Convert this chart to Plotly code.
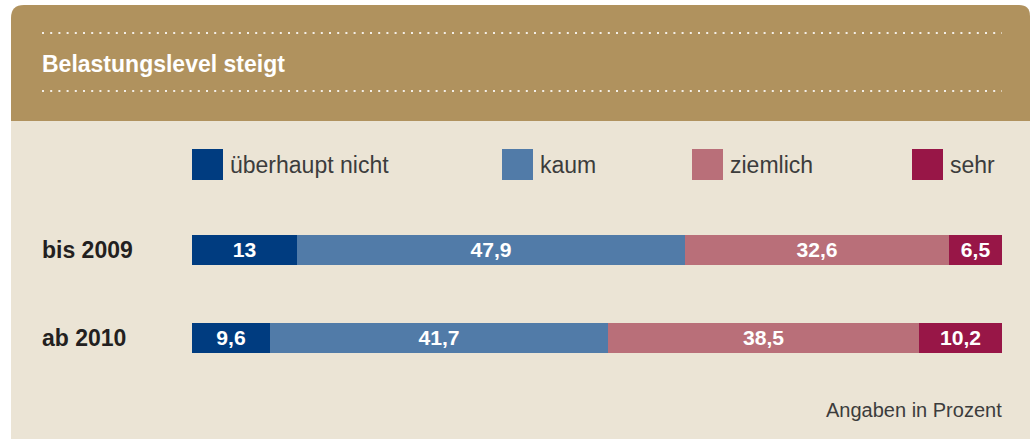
import plotly.graph_objects as go

categories = ["bis 2009", "ab 2010"]
series_names = ["überhaupt nicht", "kaum", "ziemlich", "sehr"]
values = {
    "überhaupt nicht": [13, 9.6],
    "kaum": [47.9, 41.7],
    "ziemlich": [32.6, 38.5],
    "sehr": [6.5, 10.2],
}
colors = ["#003c80", "#517ba8", "#b96f79", "#981647"]
title_text = "Belastungslevel steigt"
note_text = "Angaben in Prozent"

W, H = 1030, 439
L, R = 192, 1002
T, B = 206, 382

def px(x):
    return (x - L) / (R - L)

def py(y):
    return (B - y) / (B - T)

FONT = "Liberation Sans"

fig = go.Figure()
for name, col in zip(series_names, colors):
    vals = values[name]
    fig.add_trace(go.Bar(
        y=categories, x=vals, orientation="h", name=name,
        marker=dict(color=col, line=dict(width=0)),
        width=30 / 88,
        text=[f"{v:g}".replace(".", ",") for v in vals],
        textposition="inside", insidetextanchor="middle", textangle=0,
        textfont=dict(family=FONT, size=22, color="white", weight="bold"),
        hoverinfo="skip", showlegend=False,
    ))

shapes = []
# cream panel
shapes.append(dict(type="rect", xref="paper", yref="paper", layer="below",
                   x0=px(11), x1=px(1030), y0=py(439), y1=py(121),
                   fillcolor="#ebe4d5", line=dict(width=0)))
# gold header with rounded top corners
r1, r2 = 13, 11
path = (f"M {px(11)},{py(121)} L {px(11)},{py(5 + r1)} "
        f"Q {px(11)},{py(5)} {px(11 + r1)},{py(5)} "
        f"L {px(1030 - r2)},{py(5)} "
        f"Q {px(1030)},{py(5)} {px(1030)},{py(5 + r2)} "
        f"L {px(1030)},{py(121)} Z")
shapes.append(dict(type="path", xref="paper", yref="paper", layer="below",
                   path=path, fillcolor="#b0925e", line=dict(width=0)))
# dotted lines
for yy in (33, 91):
    shapes.append(dict(type="line", xref="paper", yref="paper", layer="above",
                       x0=px(42), x1=px(1002), y0=py(yy), y1=py(yy),
                       line=dict(color="rgba(255,255,255,0.85)", width=2, dash="2px,6.2px")))

annotations = []
annotations.append(dict(xref="paper", yref="paper", x=px(40), y=py(64),
                        text=f"<b>{title_text}</b>", showarrow=False,
                        xanchor="left", yanchor="middle",
                        font=dict(family=FONT, size=23, color="white")))

# legend
leg_x = [192, 502, 692, 912]
for lx, name, col in zip(leg_x, series_names, colors):
    shapes.append(dict(type="rect", xref="paper", yref="paper",
                       x0=px(lx), x1=px(lx + 31), y0=py(180), y1=py(149),
                       fillcolor=col, line=dict(width=0)))
    annotations.append(dict(xref="paper", yref="paper", x=px(lx + 36), y=py(165),
                            text=name, showarrow=False, xanchor="left", yanchor="middle",
                            font=dict(family=FONT, size=23, color="#3c3c3c")))

# category labels
for c in categories:
    annotations.append(dict(xref="paper", yref="y", x=px(40), y=c,
                            text=f"<b>{c}</b>", showarrow=False,
                            xanchor="left", yanchor="middle",
                            font=dict(family=FONT, size=23, color="#231f20")))

annotations.append(dict(xref="paper", yref="paper", x=px(1004), y=py(410),
                        text=note_text, showarrow=False, xanchor="right", yanchor="middle",
                        font=dict(family=FONT, size=20, color="#3c3c3c")))

fig.update_layout(
    width=W, height=H,
    margin=dict(l=L, r=W - R, t=T, b=H - B, pad=0),
    barmode="stack",
    paper_bgcolor="white",
    plot_bgcolor="rgba(0,0,0,0)",
    xaxis=dict(range=[0, 100], visible=False, fixedrange=True),
    yaxis=dict(type="category", categoryorder="array", categoryarray=categories,
               range=[1.5, -0.5], visible=False, fixedrange=True),
    shapes=shapes, annotations=annotations,
    bargap=0, showlegend=False,
)
fig.write_html("out.html", config={"displayModeBar": False},
               post_script="document.body.style.margin='0';")
